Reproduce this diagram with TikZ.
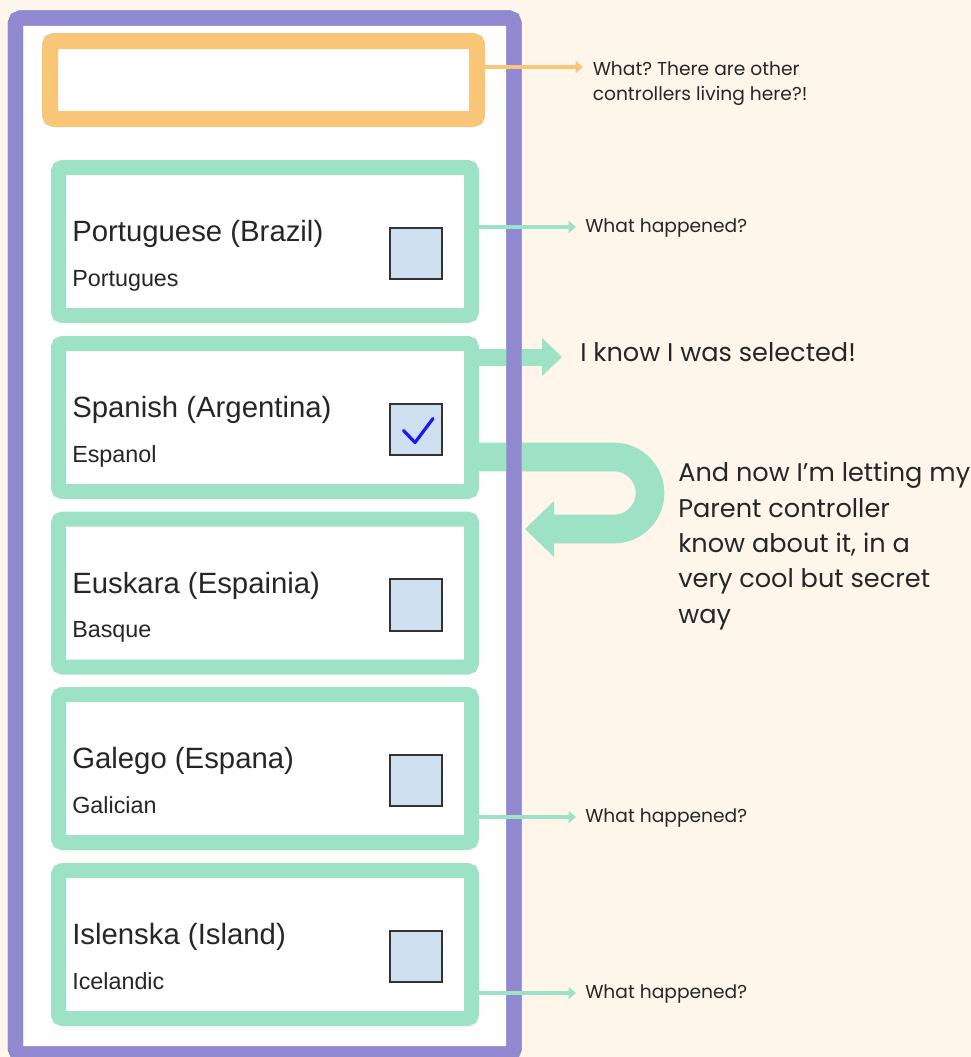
\documentclass[tikz,border=0pt]{standalone}
\usepackage{fontspec}
\setmainfont{Liberation Sans}
\newfontfamily\notefont{Poppins}
\usetikzlibrary{arrows.meta,calc}
\frenchspacing

\definecolor{bgcream}{HTML}{FEF6EA}
\definecolor{framepurple}{HTML}{9089D0}
\definecolor{boxorange}{HTML}{F9C677}
\definecolor{mint}{HTML}{9DE2C5}
\definecolor{checkfill}{HTML}{CEDFEF}
\definecolor{checkblue}{HTML}{1A1AF2}
\definecolor{inkgray}{HTML}{333333}

\tikzset{
  frame/.style={draw=framepurple, fill=white, line width=11.5pt, rounded corners=4pt,
    minimum width=373.9pt, minimum height=777pt, inner sep=0pt, outer sep=0pt},
  framestroke/.style={draw=framepurple, line width=11.5pt, rounded corners=4pt},
  orangebox/.style={draw=boxorange, fill=white, line width=12pt, rounded corners=3pt,
    minimum width=320.25pt, minimum height=58.5pt, inner sep=0pt},
  langbox/.style={draw=mint, fill=white, line width=11.25pt, rounded corners=3pt,
    minimum width=309.75pt, minimum height=111pt, inner sep=0pt},
  checkbox/.style={draw=inkgray, fill=checkfill, line width=1.4pt,
    minimum size=38.5pt, inner sep=0pt},
  titletext/.style={anchor=base west, inner sep=0pt, font=\fontsize{22pt}{26pt}\selectfont, text=black!85},
  subtext/.style={anchor=base west, inner sep=0pt, font=\fontsize{17.5pt}{21pt}\selectfont, text=black!85},
  smallnote/.style={anchor=base west, inner sep=0pt, align=left,
    font=\notefont\fontsize{14pt}{18.75pt}\selectfont, text=black!85},
  bignote/.style={anchor=base west, inner sep=0pt, align=left,
    font=\notefont\fontsize{19.2pt}{26.5pt}\selectfont, text=black!85},
  thinarrow/.style={line width=3pt, -{Triangle[length=5.5pt,width=9pt]}},
  fatshaft/.style={draw=mint, line width=12.75pt},
  ushaft/.style={draw=mint, line width=21.5pt},
}

\begin{document}
\begin{tikzpicture}[x=0.75pt,y=-0.75pt]
\useasboundingbox (0,0) rectangle (971,1057);
\clip (0,0) rectangle (971,1057);
\fill[bgcream] (0,0) rectangle (971,1057);

% outer purple container
\node[frame] (frame) at (264.75,536) {};

% orange controller slot at the top
\node[orangebox] (slot) at (263.5,80) {};

% language rows
\foreach \i/\cy/\title/\sub in {
    1/241.5/Portuguese (Brazil)/Portugues,
    2/417.5/Spanish (Argentina)/Espanol,
    3/593/Euskara (Espainia)/Basque,
    4/768.5/Galego (Espana)/Galician,
    5/944.5/Islenska (Island)/Icelandic} {
  \node[langbox] (row\i) at (265,\cy) {};
  \node[titletext] (title\i) at (72,\cy) {\title};
  \node[subtext] (sub\i) at (72,\cy+44.5) {\sub};
  \node[checkbox] (check\i) at (416,\cy+12) {};
}

% tick in the selected row
\draw[checkblue, line width=2.4pt, line cap=round, line join=round]
  ($(check2)+(-12.5,1)$) -- ($(check2)+(-1,13)$) -- ($(check2)+(17,-11)$);

% "I know I was selected!" arrow
\coordinate (selTip) at (562,357);
\coordinate (selBase) at (542,357);
\draw[fatshaft] (row2.east |- selBase) -- ($(selBase)+(2,0)$);
\fill[mint] ($(selBase)+(0,-19)$) -- (selTip) -- ($(selBase)+(0,19)$) -- cycle;

% U-turn arrow back to the parent
\coordinate (uTop) at (614,457);
\coordinate (uEnd) at (552,529);
\coordinate (uTip) at (525,529);
\draw[ushaft] (row2.east |- uTop) -- (uTop)
  arc[start angle=90, end angle=-90, radius=27pt] -- ($(uEnd)+(-2,0)$);
\fill[mint] ($(uEnd)+(2,-28)$) -- (uTip) -- ($(uEnd)+(2,28)$) -- cycle;

% container border over the thick arrows
\draw[framestroke] (frame.north west) rectangle (frame.south east);

% thin annotation arrows
\coordinate (slotTip) at (583,67);
\draw[thinarrow, draw=boxorange, fill=boxorange] (slot.east |- slotTip) -- (slotTip);
\node[smallnote] (slotNote) at (592.5,100) {What? There are other\\controllers living here?!};

\coordinate (tip1) at (576,227);
\draw[thinarrow, draw=mint, fill=mint] (row1.east |- tip1) -- (tip1);
\node[smallnote] (note1) at (585,232) {What happened?};

\coordinate (tip4) at (576,817);
\draw[thinarrow, draw=mint, fill=mint] (row4.east |- tip4) -- (tip4);
\node[smallnote] (note4) at (585,822) {What happened?};

\coordinate (tip5) at (576,993);
\draw[thinarrow, draw=mint, fill=mint] (row5.east |- tip5) -- (tip5);
\node[smallnote] (note5) at (585,998) {What happened?};

% messages from the selected row
\node[bignote] (selNote) at (580,361) {I know I was selected!};
\node[bignote] (parentNote) at (678,623) {And now I’m letting my\\Parent controller\\know about it, in a\\very cool but secret\\way};
\end{tikzpicture}
\end{document}
